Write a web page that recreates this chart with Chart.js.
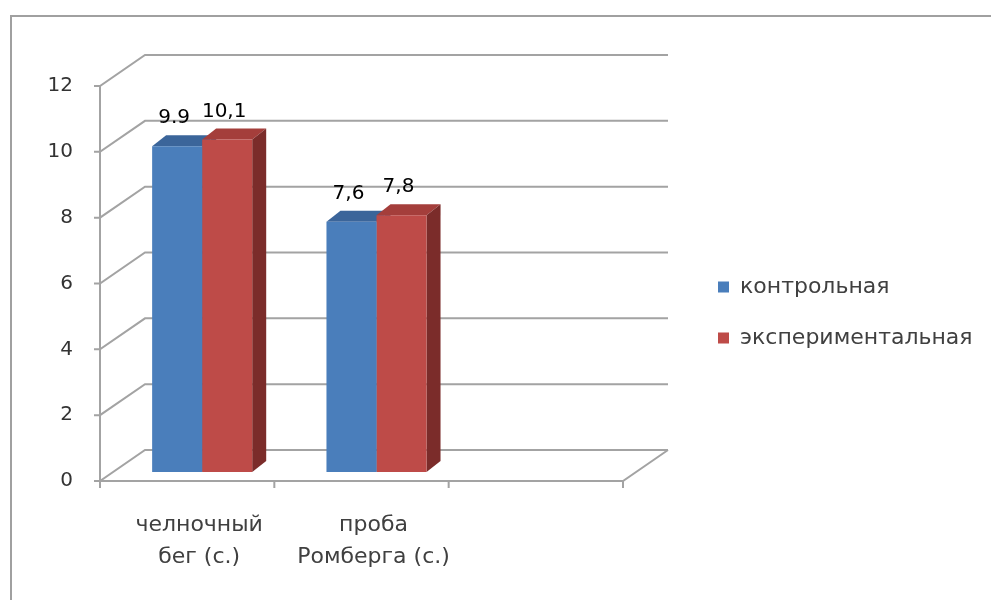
<!DOCTYPE html>
<html>
<head>
<meta charset="utf-8">
<script src="https://cdn.jsdelivr.net/npm/chart.js@4.4.1/dist/chart.umd.min.js"></script>
<style>
  html, body { margin: 0; padding: 0; background: #fff; overflow: hidden; }
  #wrap { position: relative; width: 991px; height: 600px; }
</style>
</head>
<body>
<div id="wrap"><canvas id="chart"></canvas></div>
<script>
// values
const categories = [['челночный', 'бег (с.)'], ['проба', 'Ромберга (с.)'], ''];
const controlValues = [9.9, 7.6, null];
const experimentValues = [10.1, 7.8, null];
const controlLabels = ['9.9', '7,6', ''];
const experimentLabels = ['10,1', '7,8', ''];
const yTicks = [0, 2, 4, 6, 8, 10, 12];

const FONT = "'DejaVu Sans', sans-serif";
const DEPTH = {x: 45, y: -31};     // back wall offset
const BAR_SHIFT = {x: 15, y: -9};  // bars stand a bit behind the front axis
const BAR_DEPTH = {x: 14, y: -11};
const GRID = '#a3a3a3';

const faces = [
    {front: '#4a7ebb', top: '#3b659a', side: '#2f5280'},
    {front: '#be4b48', top: '#a43e3b', side: '#7b2c2a'}
];

// outer frame of the excel chart (cropped on the right and bottom)
const frame = {
    id: 'frame',
    beforeDraw(chart) {
        const c = chart.ctx;
        c.save();
        c.strokeStyle = '#a0a0a0';
        c.lineWidth = 2;
        c.beginPath();
        c.moveTo(11, chart.height);
        c.lineTo(11, 16);
        c.lineTo(chart.width, 16);
        c.stroke();
        c.restore();
    }
};

// walls, floor and the 3d faces of the bars
const box3d = {
    id: 'box3d',
    beforeDatasetsDraw(chart) {
        const c = chart.ctx, a = chart.chartArea, y = chart.scales.y;
        const y0 = y.getPixelForValue(0);
        c.save();
        c.strokeStyle = GRID;
        c.lineWidth = 2;
        c.beginPath();
        yTicks.forEach(v => {
            const py = y.getPixelForValue(v);
            c.moveTo(a.left - 6, py);
            c.lineTo(a.left, py);
            c.lineTo(a.left + DEPTH.x, py + DEPTH.y);
            c.lineTo(a.right + DEPTH.x, py + DEPTH.y);
        });
        c.moveTo(a.left, y.getPixelForValue(yTicks[yTicks.length - 1]));
        c.lineTo(a.left, y0);
        c.lineTo(a.right, y0);
        c.lineTo(a.right + DEPTH.x, y0 + DEPTH.y);
        const n = categories.length, step = (a.right - a.left) / n;
        for (let i = 0; i <= n; i++) {
            c.moveTo(a.left + i * step, y0);
            c.lineTo(a.left + i * step, y0 + 7);
        }
        c.stroke();

        c.translate(BAR_SHIFT.x, BAR_SHIFT.y);
        chart.data.datasets.forEach((ds, di) => {
            const f = faces[di];
            chart.getDatasetMeta(di).data.forEach((bar, i) => {
                if (ds.data[i] == null) return;
                const l = bar.x - bar.width / 2, r = bar.x + bar.width / 2, t = bar.y, b = bar.base;
                c.fillStyle = f.top;
                c.beginPath();
                c.moveTo(l, t);
                c.lineTo(l + BAR_DEPTH.x, t + BAR_DEPTH.y);
                c.lineTo(r + BAR_DEPTH.x, t + BAR_DEPTH.y);
                c.lineTo(r, t);
                c.closePath();
                c.fill();
                c.fillStyle = f.side;
                c.beginPath();
                c.moveTo(r, t);
                c.lineTo(r + BAR_DEPTH.x, t + BAR_DEPTH.y);
                c.lineTo(r + BAR_DEPTH.x, b + BAR_DEPTH.y);
                c.lineTo(r, b);
                c.closePath();
                c.fill();
            });
        });
    },
    afterDatasetsDraw(chart) {
        const c = chart.ctx;
        c.font = '20px ' + FONT;
        c.fillStyle = '#000';
        c.textAlign = 'center';
        c.textBaseline = 'middle';
        [controlLabels, experimentLabels].forEach((labels, di) => {
            chart.getDatasetMeta(di).data.forEach((bar, i) => {
                if (labels[i]) c.fillText(labels[i], bar.x - 3, bar.y - 28);
            });
        });
        c.restore();
    }
};

const chart = new Chart(document.getElementById('chart'), {
    type: 'bar',
    data: {
        labels: categories,
        datasets: [
            {label: 'контрольная', data: controlValues, backgroundColor: faces[0].front},
            {label: 'экспериментальная', data: experimentValues, backgroundColor: faces[1].front}
        ]
    },
    options: {
        responsive: true,
        maintainAspectRatio: false,
        animation: false,
        layout: {padding: {left: 0, top: 86, right: 20, bottom: 0}},
        datasets: {bar: {categoryPercentage: 0.574, barPercentage: 1, clip: false}},
        scales: {
            x: {
                grid: {display: false, drawTicks: false},
                border: {display: false},
                ticks: {font: {family: FONT, size: 22, lineHeight: 1.45}, color: '#404040', padding: 28,
                        labelOffset: 12, maxRotation: 0, autoSkip: false},
                afterFit: s => { s.height = 119; }
            },
            y: {
                min: 0, max: 12,
                grid: {display: false, drawTicks: false},
                border: {display: false},
                ticks: {font: {family: FONT, size: 20}, color: '#333', padding: 27},
                afterBuildTicks: s => { s.ticks = yTicks.map(v => ({value: v})); },
                afterFit: s => { s.width = 100; }
            },
            gap: {
                type: 'linear', position: 'right', display: true,
                grid: {display: false, drawTicks: false},
                border: {display: false},
                ticks: {display: false},
                afterFit: s => { s.width = 66; }
            }
        },
        plugins: {
            legend: {
                position: 'right', align: 'center', fullSize: false, maxWidth: 360,
                title: {display: true, text: '', font: {size: 10, lineHeight: 1}, padding: {top: 0, bottom: 48}},
                labels: {boxWidth: 11, boxHeight: 11, padding: 29, font: {family: FONT, size: 22}, color: '#404040'}
            },
            tooltip: {enabled: false}
        }
    },
    plugins: [frame, box3d]
});

// second pass: put the legend where the picture has it
chart.options.layout.padding.right = Math.max(0, chart.width - 689 - chart.legend.width);
chart.update();
</script>
</body>
</html>
